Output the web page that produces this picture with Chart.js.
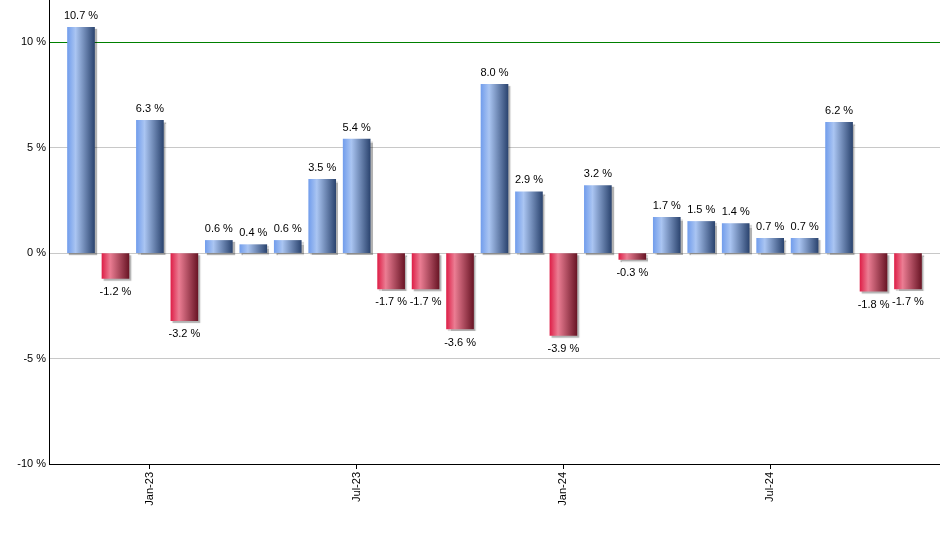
<!DOCTYPE html>
<html>
<head>
<meta charset="utf-8">
<script src="https://cdn.jsdelivr.net/npm/chart.js@4"></script>
<style>
  html, body { margin: 0; padding: 0; background: #fff; }
  #wrap { width: 940px; height: 550px; }
</style>
</head>
<body>
<div id="wrap"><canvas id="myChart"></canvas></div>
<script>
// Setup
const months = ['Nov-22', 'Dec-22', 'Jan-23', 'Feb-23', 'Mar-23', 'Apr-23', 'May-23', 'Jun-23', 'Jul-23', 'Aug-23', 'Sep-23', 'Oct-23',
  'Nov-23', 'Dec-23', 'Jan-24', 'Feb-24', 'Mar-24', 'Apr-24', 'May-24', 'Jun-24', 'Jul-24', 'Aug-24', 'Sep-24', 'Oct-24', 'Nov-24'];
const returns = [10.7, -1.2, 6.3, -3.2, 0.6, 0.4, 0.6, 3.5, 5.4, -1.7, -1.7, -3.6, 8.0, 2.9, -3.9, 3.2, -0.3, 1.7, 1.5, 1.4, 0.7, 0.7, 6.2, -1.8, -1.7];
const tickLabels = ['Jan-23', 'Jul-23', 'Jan-24', 'Jul-24'];
const yTicks = [-10, -5, 0, 5, 10];

const FONT = 'Liberation Sans, Arial, sans-serif';
const BAR_W = 27;

function barFill(ctx) {
  const chart = ctx.chart;
  const v = returns[ctx.dataIndex];
  const sx = chart.scales && chart.scales.x;
  const x = sx ? sx.getPixelForValue(ctx.dataIndex) : NaN;
  if (!isFinite(x)) return v >= 0 ? '#6f90c8' : '#b03050';
  const g = chart.ctx.createLinearGradient(x - BAR_W / 2, 0, x + BAR_W / 2, 0);
  if (v >= 0) {
    g.addColorStop(0, '#739eec');
    g.addColorStop(0.3, '#aac5f2');
    g.addColorStop(1, '#2c4570');
  } else {
    g.addColorStop(0, '#de2149');
    g.addColorStop(0.3, '#eb7d93');
    g.addColorStop(1, '#6a1626');
  }
  return g;
}

// shadow behind bars
const barShadow = {
  id: 'barShadow',
  beforeDatasetsDraw(chart) {
    const c = chart.ctx;
    c.save();
    c.shadowColor = 'rgba(0,0,0,0.3)';
    c.shadowOffsetX = 2;
    c.shadowOffsetY = 2;
    c.shadowBlur = 1;
  },
  afterDatasetsDraw(chart) {
    chart.ctx.restore();
  }
};

// value labels
const barLabels = {
  id: 'barLabels',
  afterDraw(chart) {
    const c = chart.ctx;
    const meta = chart.getDatasetMeta(0);
    c.save();
    c.font = '11px ' + FONT;
    c.fillStyle = '#000';
    c.textAlign = 'center';
    meta.data.forEach(function (el, i) {
      const v = returns[i];
      const txt = v.toFixed(1) + ' %';
      if (v >= 0) {
        c.textBaseline = 'bottom';
        c.fillText(txt, el.x, el.y - 6);
      } else {
        c.textBaseline = 'top';
        c.fillText(txt, el.x, el.y + 8);
      }
    });
    c.restore();
  }
};

function noPad(scale) {
  scale.paddingTop = 0;
  scale.paddingBottom = 0;
  scale.paddingLeft = 0;
  scale.paddingRight = 0;
}

const data = {
  datasets: [
    {
      data: returns.map(function (v, i) { return { x: i, y: v }; }),
      backgroundColor: barFill,
      borderWidth: 0,
      barThickness: BAR_W,
    },
  ],
};

// Config block
const config = {
  type: 'bar',
  data,
  options: {
    responsive: true,
    maintainAspectRatio: false,
    animation: false,
    layout: { padding: 0 },
    plugins: {
      legend: { display: false },
      tooltip: { enabled: false },
    },
    scales: {
      x: {
        type: 'linear',
        offset: false,
        min: -0.929,
        max: 24.929,
        afterBuildTicks: function (scale) {
          const t = [];
          months.forEach(function (m, i) {
            if (tickLabels.indexOf(m) >= 0) t.push({ value: i });
          });
          scale.ticks = t;
        },
        afterFit: function (scale) { scale.height = 86; noPad(scale); },
        ticks: {
          autoSkip: false,
          minRotation: 90,
          maxRotation: 90,
          padding: 3,
          color: '#000',
          font: { family: FONT, size: 11 },
          callback: function (value) { return months[value]; },
        },
        grid: {
          display: true,
          offset: false,
          drawOnChartArea: false,
          drawTicks: true,
          tickLength: 5,
          color: '#000',
        },
        border: { display: true, color: '#000', width: 1 },
      },
      y: {
        min: -10,
        max: 12,
        afterBuildTicks: function (scale) {
          scale.ticks = yTicks.map(function (v) { return { value: v }; });
        },
        afterFit: function (scale) { scale.width = 49; noPad(scale); },
        ticks: {
          padding: 3,
          color: '#000',
          font: { family: FONT, size: 11 },
          callback: function (value) { return value + ' %'; },
        },
        grid: {
          drawTicks: false,
          tickLength: 0,
          lineWidth: 1,
          color: function (ctx) {
            if (ctx.tick && ctx.tick.value === 10) return '#008000';
            return '#c8c8c8';
          },
        },
        border: { display: true, color: '#000', width: 1 },
      },
    },
  },
  plugins: [barShadow, barLabels],
};

// init / render block
const myChart = new Chart(document.getElementById('myChart'), config);
</script>
</body>
</html>
